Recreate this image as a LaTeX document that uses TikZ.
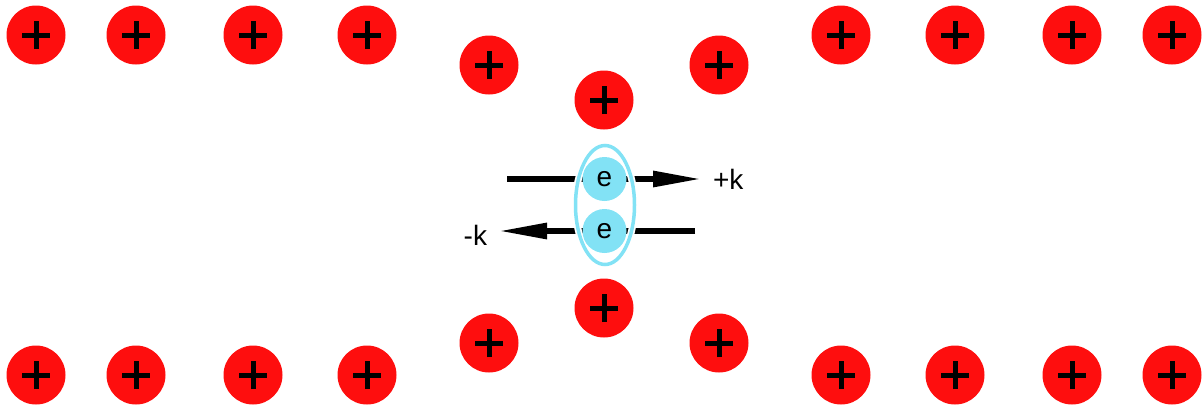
\documentclass[tikz,border=0pt]{standalone}
\usepackage{fontspec}
\setmainfont{Liberation Sans}
\usetikzlibrary{arrows.meta, shapes.geometric}

\definecolor{ionred}{RGB}{254,14,14}
\definecolor{elecblue}{RGB}{130,226,245}

\begin{document}
\begin{tikzpicture}[x = 1pt, y = -1pt,
	ion/.style = {circle, fill = ionred, minimum size = 59pt, inner sep = 0pt,
		path picture = {
			\draw[line width = 5pt] ([xshift = -14pt]path picture bounding box.center) -- ++(28pt, 0pt);
			\draw[line width = 5pt] ([yshift = -14pt]path picture bounding box.center) -- ++(0pt, 28pt);}},
	elec/.style = {circle, fill = elecblue, minimum size = 44pt, inner sep = 0pt,
		font = \fontsize{28}{32}\selectfont},
	pair/.style = {ellipse, draw = elecblue, line width = 3.5pt, minimum width = 59pt,
		minimum height = 119pt, inner sep = 0pt, preaction = {draw = white, line width = 7pt}},
	klabel/.style = {inner xsep = 11pt, inner ysep = 0pt, outer sep = 0pt,
		font = \fontsize{28}{32}\selectfont},
	karrow/.style = {line width = 6pt, -{Triangle[length = 49pt, width = 15pt]}}]

	\useasboundingbox (0, 0) rectangle (1203, 408);

	% lattice ions
	\foreach \name/\x/\y in {T1/36/35, T2/136/35, T3/253/35, T4/367/35, T5/489/65, T6/604/100,
		T7/719/65, T8/841/35, T9/955/35, T10/1072/35, T11/1172/35}
		\node[ion] (\name) at (\x, \y) {};

	\foreach \name/\x/\y in {B1/36/375, B2/136/375, B3/253/375, B4/367/375, B5/489/343, B6/604/308,
		B7/719/343, B8/841/375, B9/955/375, B10/1072/375, B11/1172/375}
		\node[ion] (\name) at (\x, \y) {};

	% momenta
	\coordinate (u0) at (507, 179);
	\coordinate (l0) at (695, 231);
	\node[klabel, anchor = base west] (pk) at (702, 189) {+k};
	\node[klabel, anchor = base east] (mk) at (498, 245) {-k};

	\foreach \from/\to in {u0/pk.west, l0/mk.east}
		\path (\from) edge [karrow] (\from -| \to);

	% cooper pair
	\node[pair] (cp) at (605, 205) {};
	\node[elec] (e1) at (604.5, 179) {e};
	\node[elec] (e2) at (604.5, 231) {e};

\end{tikzpicture}
\end{document}
